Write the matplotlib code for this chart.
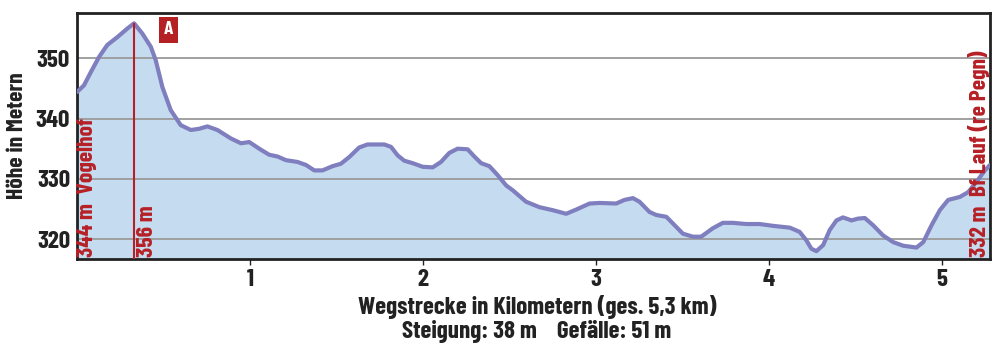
import matplotlib
matplotlib.use("Agg")
from matplotlib import pyplot as plt

# Höhenprofil
km = [0.0, 0.04, 0.08, 0.127, 0.175, 0.233, 0.29, 0.33, 0.378, 0.427, 0.455, 0.494, 0.542,
      0.6, 0.658, 0.706, 0.754, 0.812, 0.89, 0.948, 0.996, 1.054, 1.111, 1.16, 1.208, 1.275,
      1.324, 1.372, 1.42, 1.478, 1.526, 1.574, 1.632, 1.68, 1.729, 1.777, 1.816, 1.854,
      1.893, 1.941, 1.999, 2.057, 2.105, 2.153, 2.201, 2.259, 2.298, 2.337, 2.385, 2.433,
      2.482, 2.52, 2.597, 2.674, 2.751, 2.829, 2.887, 2.964, 3.022, 3.118, 3.166, 3.215,
      3.253, 3.311, 3.35, 3.408, 3.446, 3.504, 3.562, 3.61, 3.677, 3.735, 3.793, 3.871,
      3.948, 4.025, 4.122, 4.179, 4.218, 4.247, 4.276, 4.315, 4.353, 4.392, 4.43, 4.479,
      4.517, 4.556, 4.604, 4.662, 4.72, 4.778, 4.855, 4.894, 4.942, 4.99, 5.038, 5.106,
      5.154, 5.202, 5.25, 5.28]
hoehe = [344.4, 345.5, 347.7, 350.2, 352.2, 353.5, 354.9, 355.8, 354.1, 351.9, 349.7, 345.2,
         341.4, 338.9, 338.1, 338.3, 338.7, 338.1, 336.7, 335.9, 336.1, 335.0, 334.0, 333.7,
         333.1, 332.8, 332.3, 331.4, 331.4, 332.1, 332.5, 333.6, 335.2, 335.7, 335.7, 335.7,
         335.3, 333.9, 333.0, 332.6, 332.0, 331.9, 332.8, 334.3, 335.0, 334.9, 333.7, 332.6,
         332.1, 330.6, 328.9, 328.1, 326.2, 325.3, 324.8, 324.2, 324.9, 325.9, 326.0, 325.9,
         326.5, 326.8, 326.2, 324.5, 324.0, 323.7, 322.6, 320.9, 320.4, 320.4, 321.8, 322.7,
         322.7, 322.5, 322.5, 322.2, 321.9, 321.2, 319.8, 318.4, 318.0, 319.0, 321.5, 323.1,
         323.6, 323.1, 323.4, 323.5, 322.3, 320.6, 319.5, 318.9, 318.6, 319.5, 322.3, 324.8,
         326.5, 327.0, 327.8, 329.5, 331.4, 332.3]

x_ticks = [1, 2, 3, 4, 5]
y_ticks = [320, 330, 340, 350]

punkt_a_km = 0.33
punkt_a_hoehe = 355.8

plt.rcParams["font.family"] = ["Barlow Condensed", "DejaVu Sans"]
plt.rcParams["font.weight"] = "bold"
plt.rcParams["axes.labelweight"] = "bold"

rot = "#b52025"
txt = "#222222"

fig = plt.figure(figsize=(10, 3.63), dpi=100)
ax = fig.add_axes([0.077, 0.2865, 0.913, 0.6775])

ax.fill_between(km, hoehe, 316.7, color="#c5dcf0", zorder=1)
for y in y_ticks:
    ax.axhline(y, color="#9a9a9a", lw=1.3, zorder=2)
ax.plot(km, hoehe, color="#7f7fbf", lw=3, zorder=3, solid_capstyle="round",
        solid_joinstyle="round")

ax.vlines(punkt_a_km, 316.7, punkt_a_hoehe, color=rot, lw=1.5, zorder=4)
ax.text(0.527, 354.7, "A", color="white", fontsize=14, fontweight="bold",
        ha="center", va="center", zorder=5,
        bbox=dict(boxstyle="square,pad=0.25", fc=rot, ec="none"))

ax.text(0.06, 317.0, "344 m  Vogelhof", rotation=90, color=rot, fontsize=17,
        ha="center", va="bottom", zorder=5)
ax.text(0.405, 317.0, "356 m", rotation=90, color=rot, fontsize=17,
        ha="center", va="bottom", zorder=5)
ax.text(5.215, 317.0, "332 m  Bf Lauf (re Pegn)", rotation=90, color=rot, fontsize=17,
        ha="center", va="bottom", zorder=5)

ax.set_xlim(0, 5.28)
ax.set_ylim(316.7, 357.5)
ax.set_xticks(x_ticks)
ax.set_yticks(y_ticks)
ax.tick_params(axis="x", length=4, width=1, colors=txt, labelsize=18, pad=3)
ax.tick_params(axis="y", length=0, colors=txt, labelsize=18, pad=5)
for s in ax.spines.values():
    s.set_linewidth(2)
    s.set_color("#222222")

ax.set_ylabel("Höhe in Metern", fontsize=17, color=txt, labelpad=6)
fig.text(0.537, 0.153, "Wegstrecke in Kilometern (ges. 5,3 km)", ha="center", va="center",
         fontsize=18, color=txt)
fig.text(0.537, 0.088, "Steigung: 38 m    Gefälle: 51 m", ha="center", va="center",
         fontsize=18, color=txt)

fig.savefig("out.png", dpi=100)
